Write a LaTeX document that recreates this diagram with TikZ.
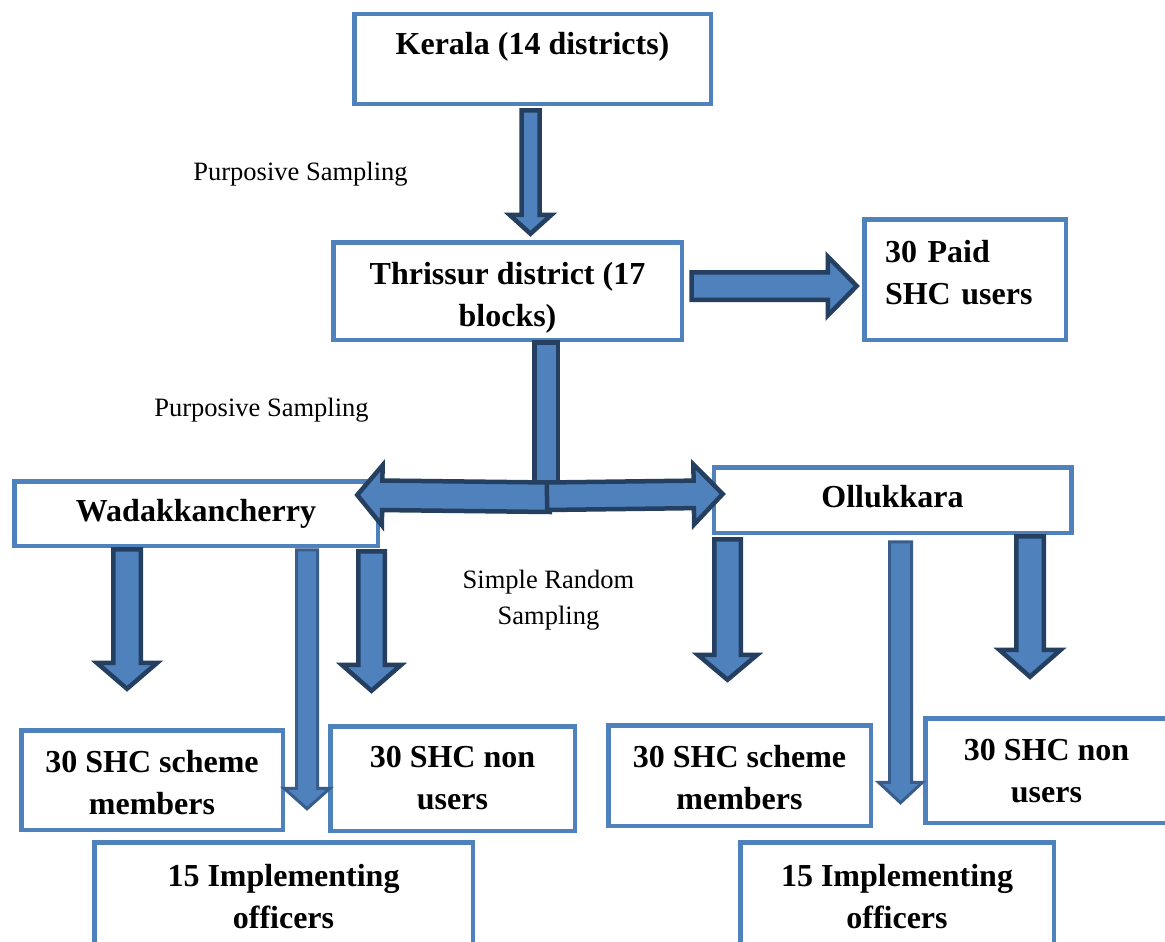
\documentclass[tikz,border=0pt]{standalone}
\usepackage{fontspec}
\setmainfont{Liberation Serif}
\usetikzlibrary{calc}
\definecolor{boxc}{HTML}{4F81BD}
\definecolor{arrfill}{HTML}{4F81BD}
\definecolor{arrdark}{HTML}{243F60}
\definecolor{arrmid}{HTML}{385D8A}
\newcommand\blockarrow[6][]{%
  \path (#2) coordinate (bas) (#3) coordinate (bat);
  \path ($(bat)!#6!(bas)$) coordinate (bah);
  \draw[barrow,#1] ($(bas)!#4!90:(bat)$) -- ($(bah)!#4!90:(bat)$) -- ($(bah)!#5!90:(bat)$) -- (bat) -- ($(bah)!#5!-90:(bat)$) -- ($(bah)!#4!-90:(bat)$) -- ($(bas)!#4!-90:(bat)$) -- cycle;
}
\newcommand\twoline[3][c]{\begin{tabular}[t]{@{}#1@{}}#2\\#3\end{tabular}}
\begin{document}
\begin{tikzpicture}[x=1pt,y=-1pt,
  box/.style={draw=boxc,line width=4.5pt,fill=white,inner sep=0pt,text height=22pt,font=\bfseries\fontsize{32}{42}\selectfont},
  lbl/.style={font=\fontsize{26.5}{36}\selectfont,inner sep=0pt,align=center},
  barrow/.style={draw=arrdark,fill=arrfill,line width=4.5pt,line join=miter},
  thinarrow/.style={draw=arrmid,line width=3pt}]
\useasboundingbox[fill=white] (0,0) rectangle (1165,942);

% boxes
\node[box,minimum width=356.5pt,minimum height=89.5pt,text depth=30pt] (kerala) at (532.5,59) {Kerala (14 districts)};
\node[box,minimum width=348.5pt,minimum height=97.5pt,text depth=36pt] (thr) at (507.5,291) {\twoline{Thrissur district (17}{blocks)}};
\node[box,minimum width=201.5pt,minimum height=120.5pt,text depth=57pt,text width=160pt,align=left] (paid) at (965,279.5) {\twoline[l]{30 Paid}{SHC users}};
\node[box,minimum width=363.5pt,minimum height=64.5pt,text depth=7pt] (wad) at (196,513.5) {Wadakkancherry};
\node[box,minimum width=357.5pt,minimum height=65.5pt,text depth=7pt] (oll) at (892.5,500) {Ollukkara};
\node[box,minimum width=261.5pt,minimum height=99.5pt,text depth=38pt] (lsm) at (152,780) {\twoline{30 SHC scheme}{members}};
\node[box,minimum width=244.5pt,minimum height=104.5pt,text depth=45pt] (lnu) at (452.5,778.5) {\twoline{30 SHC non}{users}};
\node[box,minimum width=378.5pt,minimum height=115.5pt,text depth=50pt] (lio) at (283.5,900) {\twoline{15 Implementing}{officers}};
\node[box,minimum width=262.5pt,minimum height=100.5pt,text depth=39pt] (rsm) at (739.5,775.5) {\twoline{30 SHC scheme}{members}};
\node[box,minimum width=242.5pt,minimum height=104.5pt,text depth=43pt] (rnu) at (1046.5,770.5) {\twoline{30 SHC non}{users}};
\node[box,minimum width=313.5pt,minimum height=115.5pt,text depth=50pt] (rio) at (897,900) {\twoline{15 Implementing}{officers}};

% labels
\node[lbl,anchor=base] (ps1) at (300.5,180) {Purposive Sampling};
\node[lbl,anchor=base] (ps2) at (261.5,416) {Purposive Sampling};
\node[lbl] (srs) at (548.5,600) {Simple Random\\Sampling};

% arrows
\blockarrow{$(kerala.south)+(-2,4.25)$}{$(kerala.south |- thr.north)+(-2,-6.25)$}{9pt}{21pt}{19pt}
\blockarrow{$(thr.east)+(7.5,-5)$}{$(paid.west)+(-5.25,6.5)$}{13.75pt}{29.5pt}{29pt}
\draw[barrow] ($(thr.south)+(26.75,0.5)$) rectangle ($(thr.south)+(50.25,150)$);
\blockarrow{$(thr.south)+(42.5,155.25)$}{$(wad.east)+(-22.75,-18.5)$}{14.75pt}{30pt}{25pt}
\blockarrow{$(thr.south)+(39.5,154.25)$}{$(oll.west)+(11.25,-6)$}{13.75pt}{30pt}{29pt}

\blockarrow{$(wad.south)+(-69,1.25)$}{$(lsm.north)+(-25,-39.25)$}{13.75pt}{30.25pt}{26pt}
\blockarrow[thinarrow]{$(wad.south)+(111,1.75)$}{$(lio.north)+(23.5,-31.25)$}{10.5pt}{23pt}{20.5pt}
\blockarrow{$(wad.south)+(175.5,3.25)$}{$(lnu.north)+(-81,-33.25)$}{13.25pt}{29.75pt}{26pt}

\blockarrow{$(oll.south)+(-165,4.25)$}{$(rsm.north)+(-12,-43.25)$}{13.25pt}{29.75pt}{25pt}
\blockarrow[thinarrow]{$(oll.south)+(8,6.75)$}{$(rio.north)+(3.5,-37.25)$}{11pt}{22pt}{20.5pt}
\blockarrow{$(oll.south)+(137.5,1.25)$}{$(rnu.north)+(-16.5,-39.25)$}{13.75pt}{30.75pt}{27pt}
\end{tikzpicture}
\end{document}
